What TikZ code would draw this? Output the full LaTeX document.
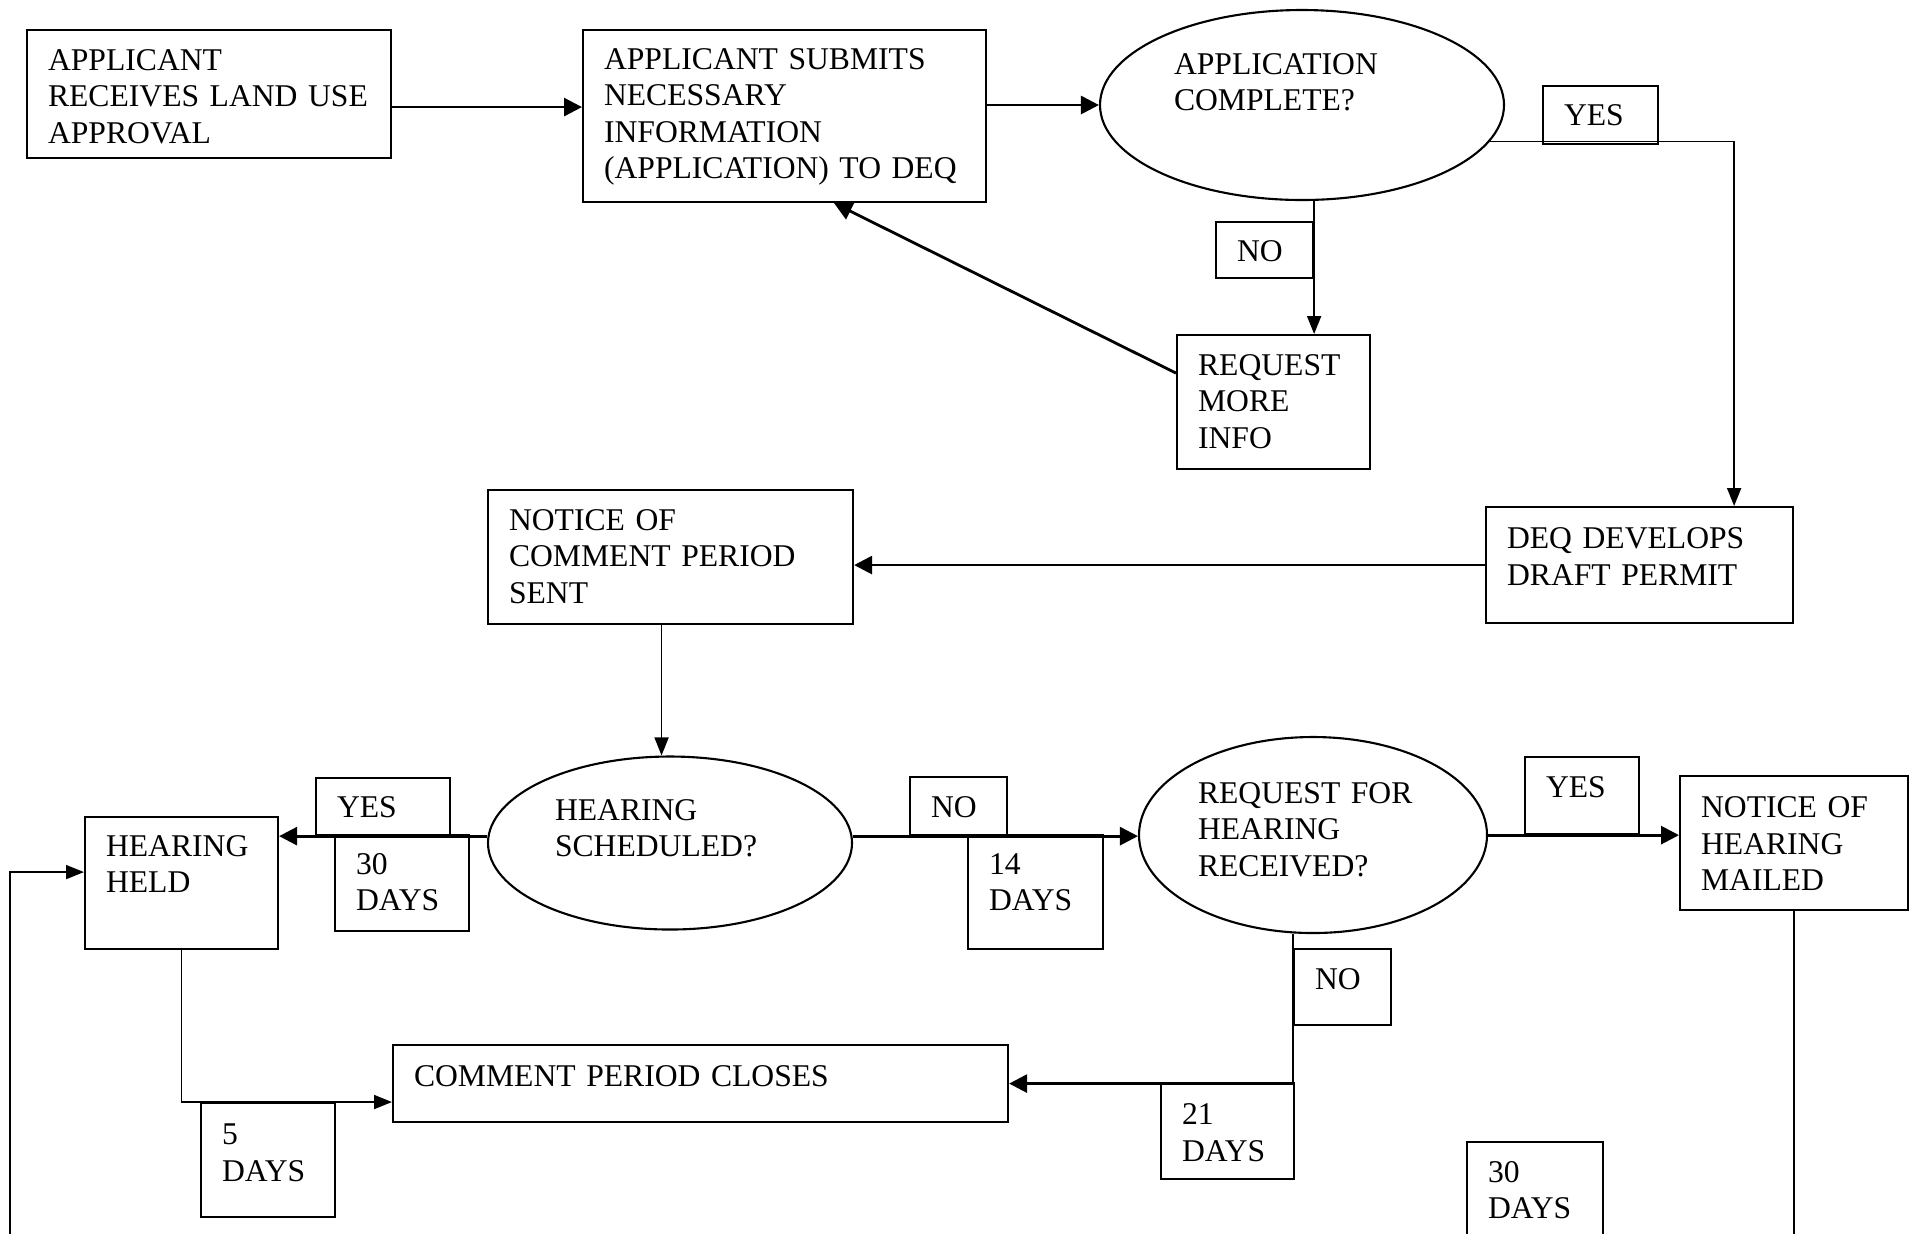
\documentclass[tikz,border=0pt]{standalone}
\usepackage{fontspec}
\setmainfont{Liberation Serif}
\usetikzlibrary{shapes.geometric,arrows.meta}

\tikzset{
  stepbox/.style n args={3}{draw, line width=0.6pt, anchor=north west, align=left,
    inner xsep=2.1mm, inner ysep=0pt, text width=#1, text height=#2, text depth=#3,
    font=\fontsize{9}{10.4}\selectfont},
  decision/.style n args={4}{draw, ellipse, line width=0.6pt, inner sep=0pt, align=left,
    text width=#1, text height=1mm, text depth=#2, minimum width=#3, minimum height=#4,
    font=\fontsize{9}{10.4}\selectfont},
  flow/.style={line width=0.8pt, -{Triangle[length=1.8mm,width=1.8mm]}},
  thinflow/.style={line width=0.5pt, -{Triangle[length=1.8mm,width=1.4mm]}},
  plain/.style={line width=0.5pt}
}

\begin{document}
\begin{tikzpicture}[x=0.1mm, y=-0.1mm]
    \useasboundingbox (0,0) rectangle (1913,1233);

    \node[stepbox={32.2mm}{4mm}{8.8mm}] (land) at (26,29) {APPLICANT\\RECEIVES LAND USE\\APPROVAL};
    \node[stepbox={36.1mm}{3.9mm}{13.3mm}] (submit) at (582,29) {APPLICANT SUBMITS\\NECESSARY\\INFORMATION\\(APPLICATION) TO DEQ};
    \node[decision={25.6mm}{7.2mm}{40.4mm}{19mm}] (complete) at (1302,105) {APPLICATION\\COMPLETE?};
    \node[stepbox={7.3mm}{3.9mm}{1.9mm}] (yes1) at (1542,85) {YES};
    \node[stepbox={5.5mm}{3.9mm}{1.7mm}] (no1) at (1215,221) {NO};
    \node[stepbox={15.1mm}{4mm}{9.4mm}] (request) at (1176,334) {REQUEST\\MORE\\INFO};
    \node[stepbox={26.5mm}{4.15mm}{7.45mm}] (deq) at (1485,506) {DEQ DEVELOPS\\DRAFT PERMIT};
    \node[stepbox={32.3mm}{4mm}{9.4mm}] (noticecp) at (487,489) {NOTICE OF\\COMMENT PERIOD\\SENT};

    \node[decision={23mm}{5.6mm}{36.4mm}{17.3mm}] (hearsched) at (670,843) {HEARING\\SCHEDULED?};
    \node[stepbox={9.2mm}{3.9mm}{1.8mm}] (yes2) at (315,777) {YES};
    \node[stepbox={9.2mm}{3.9mm}{5.7mm}] (days30a) at (334,834) {30\\DAYS};
    \node[stepbox={15.1mm}{3.9mm}{9.3mm}] (held) at (84,816) {HEARING\\HELD};
    \node[stepbox={5.5mm}{4mm}{1.8mm}] (no2) at (909,776) {NO};
    \node[stepbox={9.3mm}{3.9mm}{7.5mm}] (days14) at (967,834) {14\\DAYS};
    \node[decision={23mm}{7.4mm}{34.8mm}{19.6mm}] (hearreq) at (1313,835) {REQUEST FOR\\HEARING\\RECEIVED?};
    \node[stepbox={7.2mm}{4mm}{3.7mm}] (yes3) at (1524,756) {YES};
    \node[stepbox={18.6mm}{4.15mm}{9.25mm}] (noticehm) at (1679,775) {NOTICE OF\\HEARING\\MAILED};
    \node[stepbox={5.5mm}{4mm}{3.6mm}] (no3) at (1293,948) {NO};
    \node[stepbox={57.3mm}{4.15mm}{3.55mm}] (comment) at (392,1044) {COMMENT PERIOD CLOSES};
    \node[stepbox={9.1mm}{4.15mm}{5.45mm}] (days21) at (1160,1082) {21\\DAYS};
    \node[stepbox={9.2mm}{4.15mm}{7.25mm}] (days5) at (200,1102) {5\\DAYS};
    \node[stepbox={9.4mm}{4mm}{9mm}] (days30b) at (1466,1141) {30\\DAYS};

    \coordinate (la) at ([yshift=-1.3mm]land.east);
    \coordinate (ra) at ([yshift=2.9mm]request.west);
    \coordinate (nc) at ([xshift=-0.9mm]noticecp.south);
    \coordinate (offr) at (1792,1240);
    \coordinate (offl) at (10,1240);

    \draw[flow] (la) -- (la -| submit.west);
    \draw[flow] (submit.east |- complete.west) -- (complete.west);
    \draw[thinflow] (complete.-11.6) -| ([xshift=-6mm]deq.north east);
    \draw[thinflow] (no1.east |- complete.south) -- (no1.east |- request.north);
    \draw[flow] (ra) -- ([xshift=4.95mm]submit.south);
    \draw[flow] (deq.west) -- (deq.west -| noticecp.east);
    \draw[thinflow] (nc) -- (nc |- hearsched.north);

    \draw[flow] (hearsched.west |- yes2.south) -- (yes2.south -| held.east);
    \draw[flow] (hearsched.east |- no2.south) -- (no2.south -| hearreq.west);
    \draw[flow] (hearreq.east |- yes3.south) -- (yes3.south -| noticehm.west);
    \draw[plain] (noticehm.south) -- (noticehm.south |- offr);
    \draw[flow] (no3.west |- hearreq.south) |- (comment.east);
    \draw[thinflow] (held.south) |- (days5.north -| comment.west);
    \draw[thinflow] (offl) |- ([yshift=1.1mm]held.west);
\end{tikzpicture}
\end{document}
